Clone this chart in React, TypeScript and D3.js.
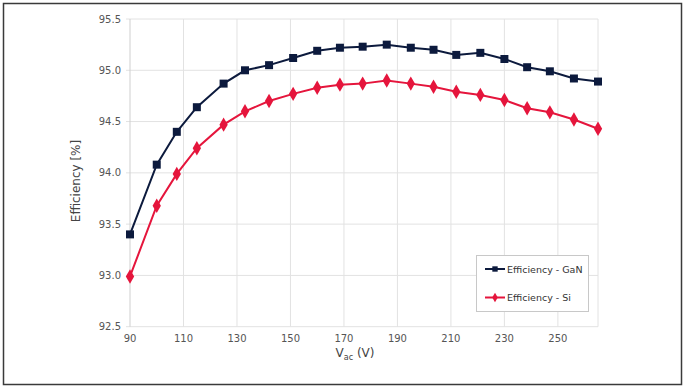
import React, { useRef, useEffect } from 'react';
import * as d3 from 'd3';

// input voltage (V) for each measured point
const vac = [90, 100, 107.5, 115, 125, 133, 142, 151, 160, 168.5, 177, 186, 195, 203.5, 212, 221, 230, 238.5, 247, 256, 265];
// efficiency (%) per series
const ganEff = [93.4, 94.08, 94.4, 94.64, 94.87, 95.0, 95.05, 95.12, 95.19, 95.22, 95.23, 95.25, 95.22, 95.2, 95.15, 95.17, 95.11, 95.03, 94.99, 94.92, 94.89];
const siEff = [92.99, 93.68, 93.99, 94.24, 94.47, 94.6, 94.7, 94.77, 94.83, 94.86, 94.87, 94.9, 94.87, 94.84, 94.79, 94.76, 94.71, 94.63, 94.59, 94.52, 94.43];
const xTicks = [90, 110, 130, 150, 170, 190, 210, 230, 250];
const yTicks = [92.5, 93.0, 93.5, 94.0, 94.5, 95.0, 95.5];

const W = 691;
const H = 392;
const margin = { left: 130, right: 93, top: 19, bottom: 65 };

export default function App() {
  const svgRef = useRef(null);

  useEffect(() => {
    document.body.style.margin = '0';
    const svg = d3.select(svgRef.current);
    svg.selectAll('*').remove();

    const font = 'DejaVu Sans, Verdana, sans-serif';

    // outer frame
    svg.append('rect')
      .attr('x', 3.5).attr('y', 3.5)
      .attr('width', 678).attr('height', 381)
      .attr('fill', '#fff')
      .attr('stroke', '#3a3a3a').attr('stroke-width', 1.5);

    const xScale = d3.scaleLinear()
      .domain([90, 265])
      .range([margin.left, W - margin.right]);
    const yScale = d3.scaleLinear()
      .domain([92.5, 95.5])
      .range([H - margin.bottom - 0.3, margin.top]);

    const g = svg.append('g');

    // grid
    g.selectAll('.hgrid')
      .data(yTicks)
      .join('line')
      .attr('x1', xScale(90) - 4).attr('x2', xScale(265))
      .attr('y1', (d) => yScale(d)).attr('y2', (d) => yScale(d))
      .attr('stroke', '#e2e2e2').attr('stroke-width', 1);
    g.selectAll('.vgrid')
      .data([...xTicks.slice(1), 265])
      .join('line')
      .attr('x1', (d) => xScale(d)).attr('x2', (d) => xScale(d))
      .attr('y1', yScale(95.5)).attr('y2', yScale(92.5))
      .attr('stroke', '#e2e2e2').attr('stroke-width', 1);

    // y axis line
    g.append('line')
      .attr('x1', xScale(90)).attr('x2', xScale(90))
      .attr('y1', yScale(95.5)).attr('y2', yScale(92.5))
      .attr('stroke', '#cfcfcf');

    // tick labels
    g.selectAll('.ylab')
      .data(yTicks)
      .join('text')
      .attr('x', xScale(90) - 9)
      .attr('y', (d) => yScale(d) + 3.5)
      .attr('text-anchor', 'end')
      .attr('font-family', font).attr('font-size', 10)
      .attr('fill', '#555')
      .text((d) => d.toFixed(1));
    g.selectAll('.xlab')
      .data(xTicks)
      .join('text')
      .attr('x', (d) => xScale(d))
      .attr('y', yScale(92.5) + 15)
      .attr('text-anchor', 'middle')
      .attr('font-family', font).attr('font-size', 10)
      .attr('fill', '#555')
      .text((d) => d);

    // axis titles
    svg.append('text')
      .attr('transform', `translate(80, 181) rotate(-90)`)
      .attr('text-anchor', 'middle')
      .attr('font-family', font).attr('font-size', 12)
      .attr('fill', '#444')
      .text('Efficiency [%]');
    const xt = svg.append('text')
      .attr('x', 355).attr('y', 357)
      .attr('text-anchor', 'middle')
      .attr('font-family', font).attr('font-size', 12)
      .attr('fill', '#444');
    xt.append('tspan').text('V');
    xt.append('tspan').attr('font-size', 8).attr('dy', 3).text('ac');
    xt.append('tspan').attr('dy', -3).text(' (V)');

    const series = [
      { name: 'Efficiency - GaN', values: ganEff, color: '#0c1a3d', shape: d3.symbolSquare, size: 64 },
      { name: 'Efficiency - Si', values: siEff, color: '#e5153c', shape: d3.symbolDiamond, size: 60 },
    ];

    const line = d3.line<number>()
      .x((_, i) => xScale(vac[i]))
      .y((d) => yScale(d));

    series.slice().reverse().forEach((s) => {
      g.append('path')
        .datum(s.values)
        .attr('d', line)
        .attr('fill', 'none')
        .attr('stroke', s.color)
        .attr('stroke-width', 2);
      g.selectAll(null)
        .data(s.values)
        .join('path')
        .attr('transform', (d, i) => `translate(${xScale(vac[i])},${yScale(d)})`)
        .attr('d', d3.symbol().type(s.shape).size(s.size)())
        .attr('fill', s.color);
    });

    // legend
    const lg = svg.append('g').attr('transform', 'translate(476,255)');
    lg.append('rect')
      .attr('x', 0.5).attr('y', 0.5)
      .attr('width', 112).attr('height', 56)
      .attr('fill', '#fff')
      .attr('stroke', '#c8c8c8');
    series.forEach((s, i) => {
      const y = 14 + i * 28.5;
      lg.append('line')
        .attr('x1', 9).attr('x2', 29)
        .attr('y1', y).attr('y2', y)
        .attr('stroke', s.color).attr('stroke-width', 2);
      lg.append('path')
        .attr('transform', `translate(19,${y})`)
        .attr('d', d3.symbol().type(s.shape).size(s.size * 0.45)())
        .attr('fill', s.color);
      lg.append('text')
        .attr('x', 31).attr('y', y + 3.5)
        .attr('font-family', font).attr('font-size', 9.5)
        .attr('fill', '#333')
        .text(s.name);
    });
  }, []);

  return (
    <svg
      ref={svgRef}
      width={W}
      height={H}
      style={{ display: 'block', position: 'absolute', left: 0, top: 0, background: '#fff' }}
    />
  );
}
